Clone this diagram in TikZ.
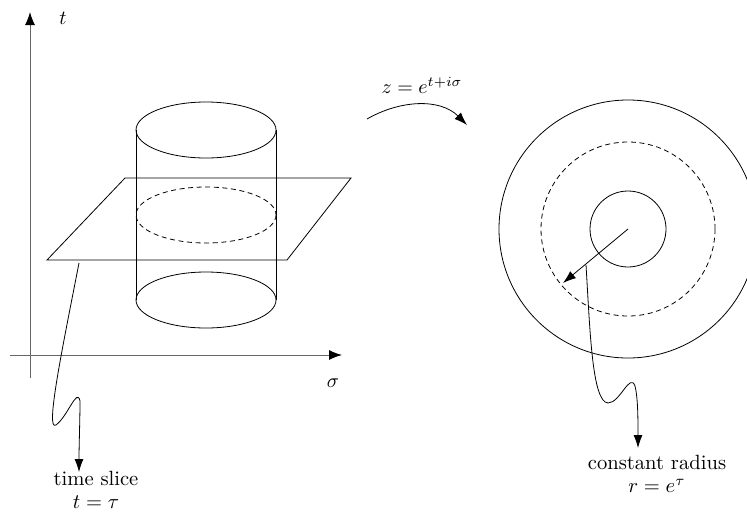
\documentclass[tikz,border=0pt]{standalone}
\usetikzlibrary{arrows.meta}

\tikzset{
  axis/.style={black!60,line width=0.5pt,-{Latex[length=6.5pt,width=5pt,black]}},
  pointer/.style={line width=0.4pt,-{Latex[length=6.5pt,width=4.5pt]}},
  hidden/.style={dashed,dash pattern=on 2.5pt off 1.8pt}
}

\begin{document}
\begin{tikzpicture}[x=0.5pt,y=-0.5pt]
\useasboundingbox (0,0) rectangle (747,514);
% axes
\coordinate (origin) at (30,355);
\draw[axis] (30,378) -- (30,12);
\draw[axis] (10,355) -- (342,355);
\node (tlab) at (63,18) {$t$};
\node (slab) at (333,383) {$\sigma$};
% cylinder
\draw (206,130) ellipse (70 and 28);
\draw (136,130) -- (136,300);
\draw (276,130) -- (276,300);
\draw (136,300) arc[start angle=180,end angle=360,x radius=70,y radius=28];
\draw (136,300) arc[start angle=180,end angle=0,x radius=70,y radius=28];
\draw[hidden] (206,215) ellipse (70 and 28);
% time slice plane
\draw (47,260) -- (287,260) -- (351,178) -- (125,178) -- cycle;
% map
\node (map) at (422,85) {$z=e^{t+i\sigma}$};
\coordinate (mapa) at (367,119);
\coordinate (mapb) at (467,125);
\draw[pointer] (mapa) .. controls (400,100) and (440,98) .. (mapb);
% plane picture
\coordinate (c) at (628,229);
\draw (c) circle (38);
\draw[hidden] (c) circle (87);
\draw (c) circle (129);
\coordinate (rim) at (563,283);
\draw[pointer] (c) -- (rim);
% labels
\node[align=center,scale=1.03] (slice) at (96,490) {time slice\\[-1pt]$t=\tau$};
\coordinate (slicea) at (79,263);
\coordinate (sliceb) at (79,472);
\draw[pointer] (slicea) .. controls (62,350) and (45,432) .. (56,425)
  .. controls (68,416) and (77,387) .. (80,401)
  .. controls (80,420) and (79,445) .. (sliceb);
\node[align=center,scale=1.03] (radius) at (657,474) {constant radius\\[-1pt]$r=e^{\tau}$};
\coordinate (radiusa) at (586,265);
\coordinate (radiusb) at (638,448);
\draw[pointer] (radiusa) .. controls (590,330) and (592,402) .. (608,403)
  .. controls (620,403) and (630,372) .. (635,386)
  .. controls (638,398) and (638,420) .. (radiusb);
\end{tikzpicture}
\end{document}
